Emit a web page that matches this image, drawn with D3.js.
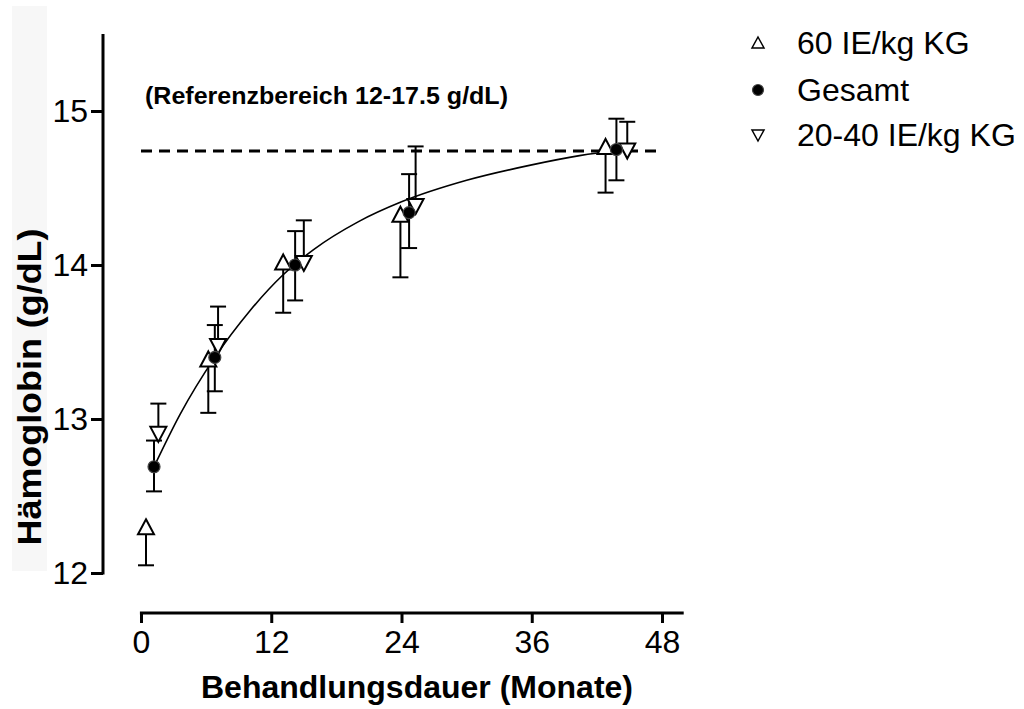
<!DOCTYPE html>
<html>
<head>
<meta charset="utf-8">
<script src="https://cdn.jsdelivr.net/npm/d3@7"></script>
<style>
  body { margin: 0; background: #fff; }
  text { font-family: "Liberation Sans", Arial, sans-serif; }
</style>
</head>
<body>
<div id="wrapper"></div>
<script>
// data (months, g/dL)
const upMonths = [0.46, 6.2, 13.1, 23.9, 42.8]
const upValues = [12.29, 13.38, 14.01, 14.32, 14.76]
const upLower = [12.05, 13.04, 13.69, 13.92, 14.47]

const allMonths = [1.2, 6.8, 14.2, 24.7, 43.8]
const allValues = [12.69, 13.40, 14.00, 14.34, 14.75]
const allLower = [12.53, 13.18, 13.77, 14.11, 14.55]
const allUpper = [12.86, 13.61, 14.22, 14.59, 14.95]

const downMonths = [1.6, 7.1, 15.0, 25.3, 44.8]
const downValues = [12.91, 13.48, 14.02, 14.39, 14.75]
const downUpper = [13.10, 13.73, 14.29, 14.77, 14.93]

// fitted curve
const fitMonths = [1.2, 3.6, 6.8, 10, 13, 15.9, 20, 24, 30, 36, 40.4, 44.5]
const fitValues = [12.69, 13.03, 13.40, 13.70, 13.93, 14.10, 14.28, 14.41, 14.55, 14.65, 14.71, 14.75]

const refValue = 14.74
const refRange = [0, 47.5]

const xTicks = [0, 12, 24, 36, 48]
const yTicks = [12, 13, 14, 15]
const legendLabels = ["60 IE/kg KG", "Gesamt", "20-40 IE/kg KG"]

let dimensions = {
  width: 1024,
  height: 709,
}

const svg = d3.select("#wrapper")
  .append("svg")
    .attr("width", dimensions.width)
    .attr("height", dimensions.height)

const xScale = d3.scaleLinear().domain([0, 48]).range([141, 662])
const yScale = d3.scaleLinear().domain([12, 15]).range([573, 111])

// grey band behind y title
svg.append("rect")
  .attr("x", 12).attr("y", 6).attr("width", 35).attr("height", 565)
  .attr("fill", "#f7f7f7")

// axes
const yAxis = svg.append("g")
  .attr("transform", "translate(103,0)")
  .call(d3.axisLeft(yScale).tickValues(yTicks).tickFormat(d3.format("d"))
    .tickSize(12).tickPadding(3).tickSizeOuter(0))
yAxis.select(".domain").attr("d", `M0,${yScale(15.5)}V${yScale(12) + 1.5}`)

const xAxis = svg.append("g")
  .attr("transform", "translate(0,613)")
  .call(d3.axisBottom(xScale).tickValues(xTicks).tickSize(10).tickPadding(7).tickSizeOuter(0))
xAxis.select(".domain").attr("d", `M${xScale(-0.1)},0H${xScale(50)}`)

svg.selectAll(".domain, .tick line").attr("stroke", "#000").attr("stroke-width", 3)
svg.selectAll(".tick text").attr("font-size", 32).attr("fill", "#000")
  .attr("font-family", "'Liberation Sans', Arial, sans-serif")

// titles
svg.append("text")
  .attr("x", 417).attr("y", 698)
  .attr("text-anchor", "middle")
  .attr("font-size", 32).attr("font-weight", "bold")
  .text("Behandlungsdauer (Monate)")

svg.append("text")
  .attr("transform", "translate(41,387) rotate(-90)")
  .attr("text-anchor", "middle")
  .attr("font-size", 33).attr("font-weight", "bold")
  .attr("textLength", 317).attr("lengthAdjust", "spacingAndGlyphs")
  .text("Hämoglobin (g/dL)")

svg.append("text")
  .attr("x", 145).attr("y", 104)
  .attr("font-size", 23).attr("font-weight", "bold")
  .attr("textLength", 363).attr("lengthAdjust", "spacingAndGlyphs")
  .text("(Referenzbereich 12-17.5 g/dL)")

// reference line
svg.append("line")
  .attr("x1", xScale(refRange[0])).attr("x2", xScale(refRange[1]))
  .attr("y1", yScale(refValue)).attr("y2", yScale(refValue))
  .attr("stroke", "#000").attr("stroke-width", 3)
  .attr("stroke-dasharray", "11,7")

// fit curve
const fitLine = d3.line()
  .x((d, i) => xScale(fitMonths[i]))
  .y(d => yScale(d))
  .curve(d3.curveMonotoneX)
svg.append("path")
  .attr("d", fitLine(fitValues))
  .attr("fill", "none").attr("stroke", "#000").attr("stroke-width", 1.6)

// error bars
function errorBar(g, x, y0, y1) {
  g.append("line").attr("x1", xScale(x)).attr("x2", xScale(x))
    .attr("y1", yScale(y0)).attr("y2", yScale(y1))
  g.append("line").attr("x1", xScale(x) - 8).attr("x2", xScale(x) + 8)
    .attr("y1", yScale(y1)).attr("y2", yScale(y1))
}
const bars = svg.append("g").attr("stroke", "#000").attr("stroke-width", 2)
upMonths.forEach((m, i) => errorBar(bars, m, upValues[i], upLower[i]))
downMonths.forEach((m, i) => errorBar(bars, m, downValues[i], downUpper[i]))
allMonths.forEach((m, i) => {
  errorBar(bars, m, allValues[i], allLower[i])
  errorBar(bars, m, allValues[i], allUpper[i])
})

// markers
const triUp = "M0,-9L8,6L-8,6Z"
const triDown = "M0,9L8,-6L-8,-6Z"

svg.append("g").selectAll("path")
  .data(upValues)
  .join("path")
    .attr("d", triUp)
    .attr("transform", (d, i) => `translate(${xScale(upMonths[i])},${yScale(d)})`)
    .attr("fill", "#fff").attr("stroke", "#000").attr("stroke-width", 2)

svg.append("g").selectAll("path")
  .data(downValues)
  .join("path")
    .attr("d", triDown)
    .attr("transform", (d, i) => `translate(${xScale(downMonths[i])},${yScale(d)})`)
    .attr("fill", "#fff").attr("stroke", "#000").attr("stroke-width", 2)

svg.append("g").selectAll("circle")
  .data(allValues)
  .join("circle")
    .attr("cx", (d, i) => xScale(allMonths[i]))
    .attr("cy", d => yScale(d))
    .attr("r", 6)
    .attr("fill", "#000").attr("stroke", "#444").attr("stroke-width", 1.2)

// legend
const legend = svg.append("g").attr("transform", "translate(758,0)")
const legendY = [43, 90, 135]
legend.append("path").attr("d", "M0,-6L6,5L-6,5Z").attr("transform", `translate(0,${legendY[0]})`)
  .attr("fill", "#fff").attr("stroke", "#000").attr("stroke-width", 1.5)
legend.append("circle").attr("cx", 0).attr("cy", legendY[1]).attr("r", 5.5)
  .attr("fill", "#000").attr("stroke", "#444").attr("stroke-width", 1.2)
legend.append("path").attr("d", "M0,6L6,-5L-6,-5Z").attr("transform", `translate(0,${legendY[2]})`)
  .attr("fill", "#fff").attr("stroke", "#000").attr("stroke-width", 1.5)
legend.selectAll("text")
  .data(legendLabels)
  .join("text")
    .attr("x", 39)
    .attr("y", (d, i) => legendY[i])
    .attr("dy", "0.35em")
    .attr("font-size", 32)
    .text(d => d)
</script>
</body>
</html>
